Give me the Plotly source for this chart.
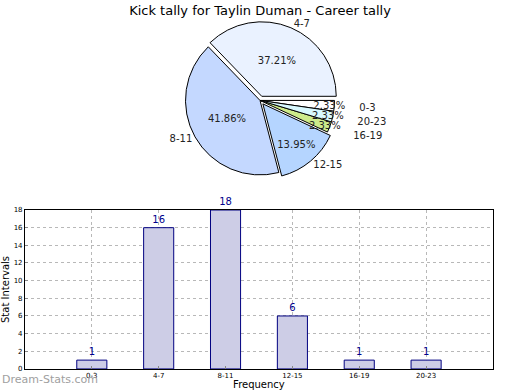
import plotly.graph_objects as go

categories = ["0-3", "4-7", "8-11", "12-15", "16-19", "20-23"]
counts = [1, 16, 18, 6, 1, 1]
pie_colors = ["#ffffff", "#eaf2ff", "#c4d8ff", "#b5d5ff", "#cdeb8b", "#d8f9ff"]
pie_pull = [0.0, 0.06, 0.0, 0.06, 0.0, 0.0]
label_pull = [0.3, 0.06, 0.0, 0.06, 0.3, 0.3]
y_ticks = [0, 2, 4, 6, 8, 10, 12, 14, 16, 18]

title_text = "Kick tally for Taylin Duman - Career tally"
font_family = "DejaVu Sans, Verdana, sans-serif"

fig = go.Figure()

pie_domain = dict(x=[0.1, 0.9], y=[0.54, 0.945])
# the label carrier is scaled up so its un-pulled radius matches the drawn pie
scale = (1 + max(label_pull)) / (1 + max(pie_pull))
cy = (pie_domain["y"][0] + pie_domain["y"][1]) / 2
half = (pie_domain["y"][1] - pie_domain["y"][0]) / 2 * scale
label_domain = dict(x=[0.0, 1.0], y=[cy - half, cy + half])

# Pie with percentages inside
fig.add_trace(go.Pie(
    labels=categories, values=counts, sort=False,
    direction="counterclockwise", rotation=90,
    marker=dict(colors=pie_colors, line=dict(color="#000000", width=1)),
    pull=pie_pull,
    texttemplate="%{percent:.2%}", textposition="inside",
    insidetextorientation="horizontal",
    textfont=dict(family=font_family, size=10, color="#222222"),
    domain=pie_domain, showlegend=False, hoverinfo="label+value",
))
# Transparent overlay pie carrying the outside labels
fig.add_trace(go.Pie(
    labels=categories, values=counts, sort=False,
    direction="counterclockwise", rotation=90,
    marker=dict(colors=["rgba(0,0,0,0)"] * len(categories), line=dict(width=0)),
    pull=label_pull,
    texttemplate="%{label}", textposition="outside",
    textfont=dict(family=font_family, size=10, color="#222222"),
    domain=label_domain, showlegend=False, hoverinfo="skip",
))

# Bar chart
fig.add_trace(go.Bar(
    x=categories, y=counts, width=0.45,
    marker=dict(color="#cdcde6", line=dict(color="#000080", width=1)),
    text=[str(c) for c in counts], textposition="outside",
    textfont=dict(family=font_family, size=10, color="#00008b"),
    cliponaxis=False, showlegend=False, xaxis="x", yaxis="y",
))

fig.update_layout(
    width=520, height=390,
    margin=dict(l=0, r=0, t=0, b=0, autoexpand=False),
    paper_bgcolor="white", plot_bgcolor="white",
    font=dict(family=font_family, size=8, color="#000000"),
    uniformtext=dict(minsize=9, mode="show"),
    title=dict(text=title_text, x=0.5, xanchor="center", y=0.974, yanchor="middle",
               font=dict(family=font_family, size=13, color="#000000")),
    xaxis=dict(domain=[0.048, 0.948], anchor="y", type="category", automargin=False,
               range=[-1, 6], showgrid=True, gridcolor="#b8b8b8", griddash="dot",
               gridwidth=1, showline=True, linecolor="#000000", mirror=True,
               ticks="inside", ticklen=3, tickcolor="#888888",
               tickfont=dict(size=7, family=font_family),
               title=dict(text="Frequency", font=dict(size=10, family=font_family)),
               zeroline=False),
    yaxis=dict(domain=[0.054, 0.4615], anchor="x", range=[0, 18], tickvals=y_ticks,
               automargin=False,
               showgrid=True, gridcolor="#b8b8b8", griddash="dot", gridwidth=1,
               showline=True, linecolor="#000000", mirror=True,
               ticks="inside", ticklen=3, tickcolor="#888888",
               tickfont=dict(size=7, family=font_family),
               title=dict(text="Stat Intervals", font=dict(size=10, family=font_family)),
               zeroline=False),
    annotations=[dict(text="Dream-Stats.com", x=0.0, y=0.0, xref="paper", yref="paper",
                      xanchor="left", yanchor="bottom", yshift=2, showarrow=False,
                      font=dict(family=font_family, size=11, color="#a0a0a0"))],
)

fig.write_html("out.html", config={"displayModeBar": False},
               post_script="document.body.style.margin='0px';document.body.style.padding='0px';")
